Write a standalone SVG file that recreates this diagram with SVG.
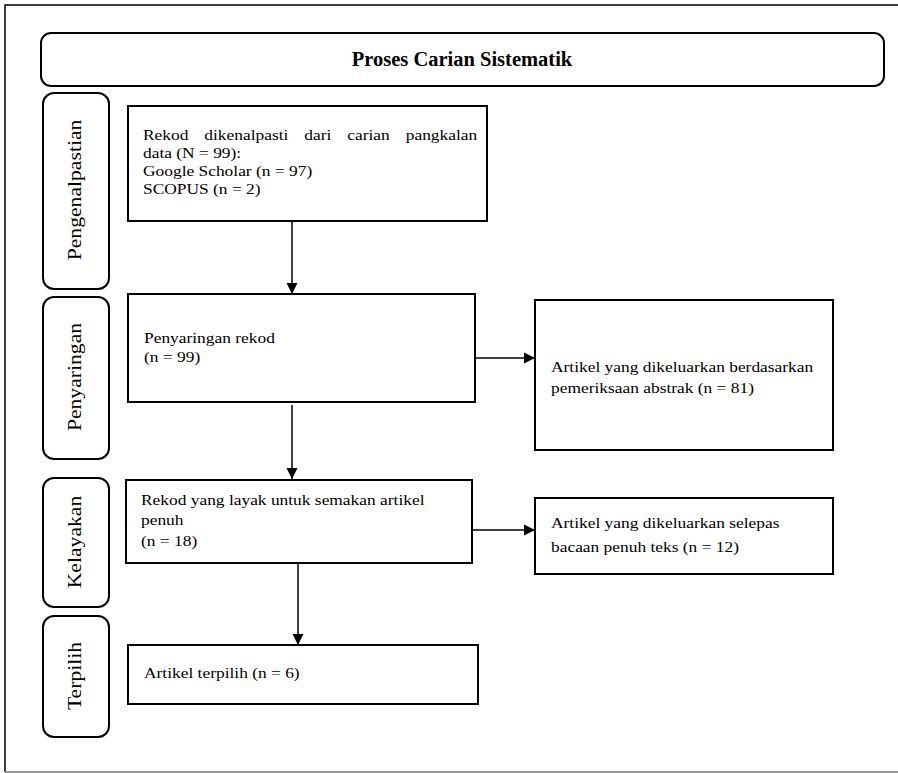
<svg xmlns="http://www.w3.org/2000/svg" width="898" height="773" viewBox="0 0 898 773">
<style>
.t{font-family:"Liberation Serif","Times New Roman",serif;font-size:15px;fill:#000}
.v{font-family:"Liberation Serif","Times New Roman",serif;font-size:19px;fill:#000;text-anchor:middle}
.ttl{font-family:"Liberation Serif","Times New Roman",serif;font-size:20.5px;font-weight:bold;fill:#000;text-anchor:middle}
.pill{fill:#fff;stroke:#000;stroke-width:2}
.box{fill:#fff;stroke:#000;stroke-width:2}
.con{stroke:#000;stroke-width:1.5;fill:none;marker-end:url(#ah)}
</style>
<defs>
<marker id="ah" markerUnits="userSpaceOnUse" markerWidth="12" markerHeight="12" refX="11" refY="6" orient="auto">
<path d="M0,0.5 L11,6 L0,11.5 Z" fill="#000"/>
</marker>
</defs>
<rect width="898" height="773" fill="#fff"/>
<g id="frame">
<path d="M900,5 H5 V772" fill="none" stroke="#000" stroke-width="1.5"/>
<line x1="5" y1="772" x2="898" y2="772" stroke="#777" stroke-width="1.5"/>
</g>
<g id="title">
<rect x="41" y="33" width="843" height="53" rx="10" class="pill"/>
<text class="ttl" x="462" y="66">Proses Carian Sistematik</text>
</g>
<g id="lbl-pengenalpastian">
<rect x="43" y="93" width="66" height="196" rx="11" class="pill"/>
<text class="v" transform="translate(81 190) rotate(-90) scale(1.14 1)">Pengenalpastian</text>
</g>
<g id="lbl-penyaringan">
<rect x="43" y="297" width="66" height="162" rx="11" class="pill"/>
<text class="v" transform="translate(81 377) rotate(-90) scale(1.14 1)">Penyaringan</text>
</g>
<g id="lbl-kelayakan">
<rect x="43" y="478" width="66" height="129" rx="11" class="pill"/>
<text class="v" transform="translate(81 542) rotate(-90) scale(1.14 1)">Kelayakan</text>
</g>
<g id="lbl-terpilih">
<rect x="43" y="616" width="66" height="121" rx="11" class="pill"/>
<text class="v" transform="translate(81 676) rotate(-90) scale(1.14 1)">Terpilih</text>
</g>
<g id="connectors">
<line x1="292" y1="221" x2="292" y2="294" class="con"/>
<line x1="292" y1="405" x2="292" y2="479" class="con"/>
<line x1="298" y1="559" x2="298" y2="645" class="con"/>
<line x1="475" y1="358" x2="535" y2="358" class="con"/>
<line x1="472" y1="530" x2="535" y2="530" class="con"/>
</g>
<g id="n-identified">
<rect x="128" y="106" width="359" height="115" class="box"/>
<text class="t" transform="matrix(1.16 0 0 1 143 140)" word-spacing="10">Rekod dikenalpasti dari carian pangkalan</text>
<text class="t" transform="matrix(1.16 0 0 1 143 158)">data (N = 99):</text>
<text class="t" transform="matrix(1.16 0 0 1 143 176)">Google Scholar (n = 97)</text>
<text class="t" transform="matrix(1.16 0 0 1 143 194)">SCOPUS (n = 2)</text>
</g>
<g id="n-screening">
<rect x="128" y="294" width="347" height="108" class="box"/>
<text class="t" transform="matrix(1.16 0 0 1 144 343)">Penyaringan rekod</text>
<text class="t" transform="matrix(1.16 0 0 1 144 362)">(n = 99)</text>
</g>
<g id="n-excluded-abstract">
<rect x="535" y="300" width="298" height="150" class="box"/>
<text class="t" transform="matrix(1.16 0 0 1 551 372)">Artikel yang dikeluarkan berdasarkan</text>
<text class="t" transform="matrix(1.16 0 0 1 551 393)">pemeriksaan abstrak (n = 81)</text>
</g>
<g id="n-eligible">
<rect x="126" y="480" width="346" height="83" class="box"/>
<text class="t" transform="matrix(1.16 0 0 1 141 505)">Rekod yang layak untuk semakan artikel</text>
<text class="t" transform="matrix(1.16 0 0 1 141 525)">penuh</text>
<text class="t" transform="matrix(1.16 0 0 1 141 546)">(n = 18)</text>
</g>
<g id="n-excluded-fulltext">
<rect x="535" y="498" width="298" height="76" class="box"/>
<text class="t" transform="matrix(1.16 0 0 1 551 528)">Artikel yang dikeluarkan selepas</text>
<text class="t" transform="matrix(1.16 0 0 1 551 552)">bacaan penuh teks (n = 12)</text>
</g>
<g id="n-selected">
<rect x="128" y="645" width="350" height="59" class="box"/>
<text class="t" transform="matrix(1.16 0 0 1 144 678)">Artikel terpilih (n = 6)</text>
</g>
</svg>
